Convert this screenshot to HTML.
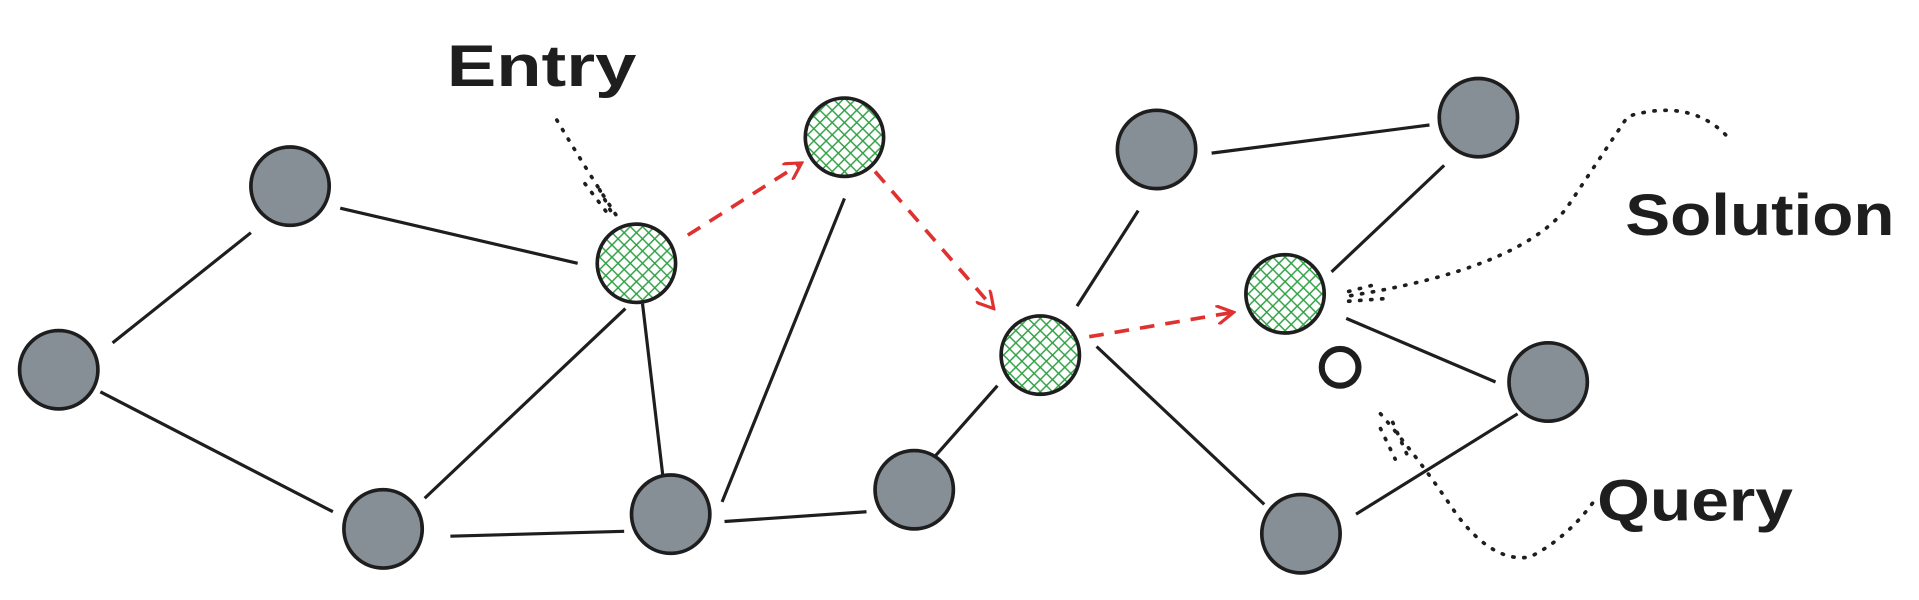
<!DOCTYPE html>
<html><head><meta charset="utf-8"><style>
html,body{margin:0;padding:0;background:#fff;}
svg{display:block;}
text{font-family:"Liberation Sans",sans-serif;font-weight:bold;fill:#1e1e1e;}
</style></head><body>
<svg width="1919" height="600" viewBox="0 0 1568 490">
<defs>
<pattern id="hatch" width="10" height="10" patternUnits="userSpaceOnUse">
<rect width="10" height="10" fill="#fff"/>
<path d="M0,0 L10,10 M10,0 L0,10" stroke="#2ea043" stroke-width="1.2"/>
</pattern>
<marker id="arr" markerWidth="16" markerHeight="16" refX="14" refY="8" orient="auto" markerUnits="userSpaceOnUse">
<path d="M0,0 L14,8 L0,16" fill="none" stroke="#e03131" stroke-width="2.6"/>
</marker>
</defs>
<g stroke="#1e1e1e" stroke-width="2.6">
<line x1="92" y1="280" x2="205" y2="190"/>
<line x1="82" y1="320" x2="272" y2="418"/>
<line x1="278" y1="170" x2="472" y2="215"/>
<line x1="347" y1="407" x2="511" y2="252"/>
<line x1="368" y1="438" x2="510" y2="434"/>
<line x1="525" y1="248" x2="542" y2="392"/>
<line x1="590" y1="410" x2="690" y2="162"/>
<line x1="592" y1="426" x2="708" y2="418"/>
<line x1="762" y1="375" x2="815" y2="315"/>
<line x1="880" y1="250" x2="930" y2="172"/>
<line x1="990" y1="125" x2="1168" y2="102"/>
<line x1="1088" y1="222" x2="1180" y2="135"/>
<line x1="1100" y1="260" x2="1222" y2="312"/>
<line x1="896" y1="283" x2="1033" y2="412"/>
<line x1="1108" y1="420" x2="1240" y2="338"/>
</g>
<g stroke="#e03131" stroke-width="3" stroke-dasharray="12 9" fill="none">
<line x1="562" y1="192" x2="655" y2="133" marker-end="url(#arr)"/>
<line x1="715" y1="140" x2="812" y2="252" marker-end="url(#arr)"/>
<line x1="890" y1="275" x2="1008" y2="255" marker-end="url(#arr)"/>
</g>
<g stroke="#1e1e1e" stroke-width="3" stroke-dasharray="1 8" stroke-linecap="round" fill="none">
<path d="M455,98 Q480,140 505,178"/>
<path d="M478,150 L497,175 M490,155 L502,178"/>
<path d="M1410,110 Q1380,80 1330,95 Q1300,140 1280,170 Q1240,220 1100,242"/>
<path d="M1102,238 L1125,232 M1102,246 L1130,244"/>
<path d="M1128,338 Q1160,375 1190,420 Q1220,460 1250,455 Q1280,440 1302,410"/>
<path d="M1138,345 L1150,372 M1128,350 L1140,375"/>
</g>
<g stroke="#1e1e1e" stroke-width="3">
<circle cx="48" cy="302" r="32" fill="#868e96"/>
<circle cx="237" cy="152" r="32" fill="#868e96"/>
<circle cx="313" cy="432" r="32" fill="#868e96"/>
<circle cx="548" cy="420" r="32" fill="#868e96"/>
<circle cx="747" cy="400" r="32" fill="#868e96"/>
<circle cx="945" cy="122" r="32" fill="#868e96"/>
<circle cx="1208" cy="96" r="32" fill="#868e96"/>
<circle cx="1265" cy="312" r="32" fill="#868e96"/>
<circle cx="1063" cy="436" r="32" fill="#868e96"/>
<circle cx="520" cy="215" r="32" fill="url(#hatch)"/>
<circle cx="690" cy="112" r="32" fill="url(#hatch)"/>
<circle cx="850" cy="290" r="32" fill="url(#hatch)"/>
<circle cx="1050" cy="240" r="32" fill="url(#hatch)"/>
<circle cx="1095" cy="300" r="15" fill="#fff" stroke-width="5"/>
</g>
<text x="365" y="70" font-size="48" textLength="155" lengthAdjust="spacingAndGlyphs">Entry</text>
<text x="1328" y="192" font-size="48" textLength="220" lengthAdjust="spacingAndGlyphs">Solution</text>
<text x="1305" y="425" font-size="48" textLength="160" lengthAdjust="spacingAndGlyphs">Query</text>
</svg>
</body></html>
